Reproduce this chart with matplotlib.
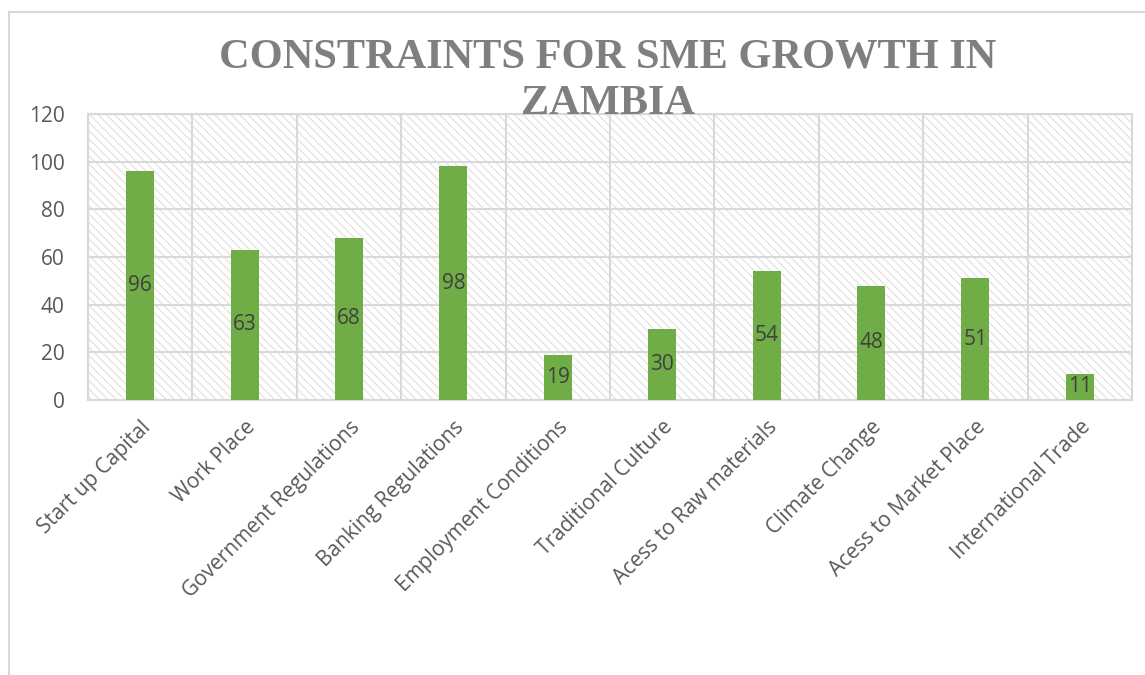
import matplotlib
matplotlib.use("Agg")
import matplotlib.pyplot as plt
from matplotlib.patches import Rectangle
import numpy as np

categories = ["Start up Capital", "Work Place", "Government Regulations",
              "Banking Regulations", "Employment Conditions", "Traditional Culture",
              "Acess to Raw materials", "Climate Change", "Acess to Market Place",
              "International Trade"]
values = [96, 63, 68, 98, 19, 30, 54, 48, 51, 11]
yticks = [0, 20, 40, 60, 80, 100, 120]
title_lines = ["CONSTRAINTS FOR SME GROWTH IN", "ZAMBIA"]

W, H = 1145, 675
plt.rcParams["hatch.linewidth"] = 0.7
fig = plt.figure(figsize=(W / 100, H / 100), dpi=100)

# outer chart frame
fig.patches.append(Rectangle((9 / W, -0.05), 1.0, 1 - 12 / H + 0.05,
                             transform=fig.transFigure, fill=False,
                             edgecolor="#d9d9d9", linewidth=1.5, zorder=0))

ax = fig.add_axes([88 / W, 1 - 400 / H, (1132 - 88) / W, (400 - 114) / H])
x = np.arange(len(categories))

# hatched plot area background
bg = Rectangle((0, 0), 1, 1, transform=ax.transAxes, facecolor="white",
               edgecolor="#dcdcdc", hatch="\\\\\\\\", linewidth=0, zorder=0)
ax.add_patch(bg)

ax.bar(x, values, width=0.27, color="#70ad47", zorder=3)
for xi, v in zip(x, values):
    ax.text(xi, v / 2, str(v), ha="center", va="center", fontsize=15,
            color="#404040", family="Open Sans", zorder=4)

ax.set_xlim(-0.5, len(categories) - 0.5)
ax.set_ylim(0, 120)
ax.set_yticks(yticks)
ax.set_yticklabels([str(t) for t in yticks], fontsize=15, color="#595959",
                   family="Open Sans")
ax.set_xticks(x)
ax.set_xticklabels(categories, rotation=45, ha="right", rotation_mode="anchor",
                   fontsize=15, color="#595959", family="Open Sans")
ax.set_xticks(np.arange(-0.5, len(categories), 1), minor=True)
ax.tick_params(axis="both", which="both", length=0)
ax.tick_params(axis="y", pad=17)
ax.tick_params(axis="x", pad=12)

ax.grid(axis="y", which="major", color="#d9d9d9", linewidth=1.5, zorder=1)
ax.grid(axis="x", which="minor", color="#d9d9d9", linewidth=1.5, zorder=1)
ax.grid(axis="x", which="major", visible=False)
ax.set_axisbelow(True)
for s in ax.spines.values():
    s.set_color("#d9d9d9")
    s.set_linewidth(1.5)

fig.text(608 / W, 1 - 57 / H, title_lines[0], ha="center", va="center", fontsize=30.5,
         fontweight="bold", color="#7f7f7f", family="Liberation Serif", zorder=5)
fig.text(608 / W, 1 - 104 / H, title_lines[1], ha="center", va="center", fontsize=30.5,
         fontweight="bold", color="#7f7f7f", family="Liberation Serif", zorder=5)

fig.savefig("out.png", dpi=100, facecolor="white")
